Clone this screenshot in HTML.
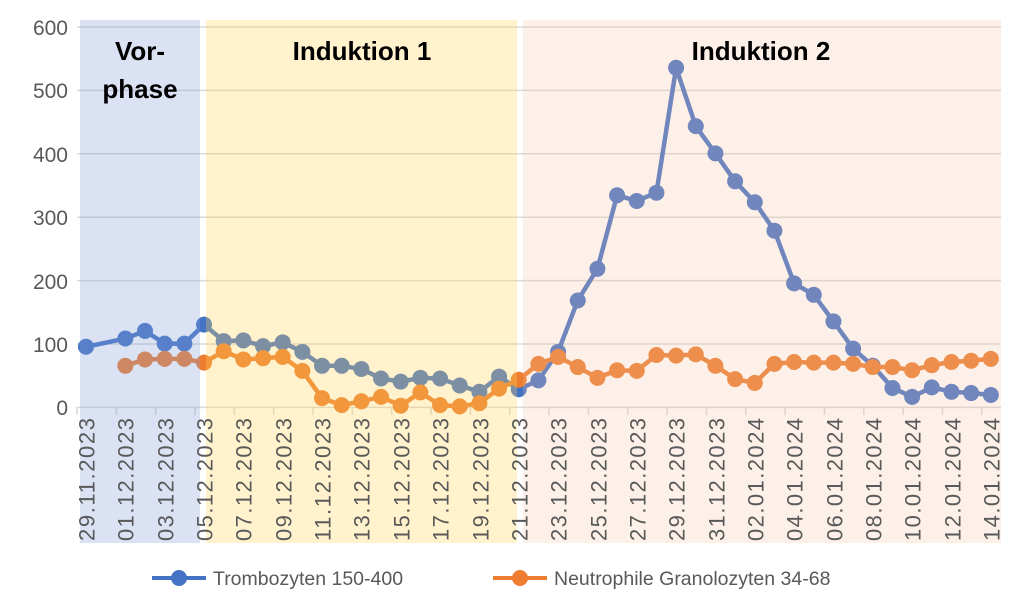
<!DOCTYPE html>
<html><head><meta charset="utf-8"><style>
body{margin:0;background:#fff;}
svg{display:block;font-family:"Liberation Sans",sans-serif;}
</style></head><body>
<svg id="s" width="1025" height="612" viewBox="0 0 1025 612">
<rect width="1025" height="612" fill="#fff"/>
<g stroke="#d9d9d9" stroke-width="1.5">
<line x1="77" x2="1001" y1="27" y2="27"/><line x1="77" x2="1001" y1="90.4" y2="90.4"/>
<line x1="77" x2="1001" y1="153.8" y2="153.8"/><line x1="77" x2="1001" y1="217.2" y2="217.2"/>
<line x1="77" x2="1001" y1="280.6" y2="280.6"/><line x1="77" x2="1001" y1="344" y2="344"/>
<line x1="77" x2="1001" y1="407.4" y2="407.4"/>
</g>
<g id="ticks" stroke="#d9d9d9" stroke-width="1.5"></g>
<g id="series"></g>
<rect x="80" y="20" width="120" height="523" fill="rgb(131,160,215)" fill-opacity="0.3"/>
<rect x="206" y="20" width="311" height="523" fill="rgb(255,212,85)" fill-opacity="0.3"/>
<rect x="523" y="20" width="478" height="523" fill="rgb(245,197,162)" fill-opacity="0.25"/>
<g font-size="21" fill="#595959" text-anchor="end">
<text x="68" y="35">600</text><text x="68" y="98">500</text><text x="68" y="162">400</text>
<text x="68" y="225">300</text><text x="68" y="289">200</text><text x="68" y="352">100</text><text x="68" y="415">0</text>
</g>
<g font-size="26" font-weight="bold" fill="#000" text-anchor="middle">
<text x="140" y="60">Vor-</text><text x="140" y="98">phase</text>
<text x="362" y="60">Induktion 1</text><text x="761" y="60">Induktion 2</text>
</g>
<g font-size="22" fill="#595959" text-anchor="end" dominant-baseline="central" lengthAdjust="spacingAndGlyphs">
<text textLength="123" transform="translate(87,418) rotate(-90)">29.11.2023</text>
<text textLength="123" transform="translate(126,418) rotate(-90)">01.12.2023</text>
<text textLength="123" transform="translate(166,418) rotate(-90)">03.12.2023</text>
<text textLength="123" transform="translate(205,418) rotate(-90)">05.12.2023</text>
<text textLength="123" transform="translate(244,418) rotate(-90)">07.12.2023</text>
<text textLength="123" transform="translate(284,418) rotate(-90)">09.12.2023</text>
<text textLength="123" transform="translate(323,418) rotate(-90)">11.12.2023</text>
<text textLength="123" transform="translate(362,418) rotate(-90)">13.12.2023</text>
<text textLength="123" transform="translate(402,418) rotate(-90)">15.12.2023</text>
<text textLength="123" transform="translate(441,418) rotate(-90)">17.12.2023</text>
<text textLength="123" transform="translate(481,418) rotate(-90)">19.12.2023</text>
<text textLength="123" transform="translate(520,418) rotate(-90)">21.12.2023</text>
<text textLength="123" transform="translate(559,418) rotate(-90)">23.12.2023</text>
<text textLength="123" transform="translate(599,418) rotate(-90)">25.12.2023</text>
<text textLength="123" transform="translate(638,418) rotate(-90)">27.12.2023</text>
<text textLength="123" transform="translate(677,418) rotate(-90)">29.12.2023</text>
<text textLength="123" transform="translate(717,418) rotate(-90)">31.12.2023</text>
<text textLength="123" transform="translate(756,418) rotate(-90)">02.01.2024</text>
<text textLength="123" transform="translate(795,418) rotate(-90)">04.01.2024</text>
<text textLength="123" transform="translate(835,418) rotate(-90)">06.01.2024</text>
<text textLength="123" transform="translate(874,418) rotate(-90)">08.01.2024</text>
<text textLength="123" transform="translate(913,418) rotate(-90)">10.01.2024</text>
<text textLength="123" transform="translate(953,418) rotate(-90)">12.01.2024</text>
<text textLength="123" transform="translate(992,418) rotate(-90)">14.01.2024</text>
</g>
<g>
<line x1="152" x2="206" y1="578" y2="578" stroke="#4472c4" stroke-width="4"/>
<circle cx="179" cy="578" r="8" fill="#4472c4"/>
<text x="213" y="585" font-size="19.5" fill="#595959">Trombozyten 150-400</text>
<line x1="493" x2="547" y1="578" y2="578" stroke="#ed7d31" stroke-width="4"/>
<circle cx="520" cy="578" r="8" fill="#ed7d31"/>
<text x="554" y="585" font-size="19.5" fill="#595959">Neutrophile Granolozyten 34-68</text>
</g>
</svg>
<script>
var NS="http://www.w3.org/2000/svg";
var t=document.getElementById("ticks");
for(var k=0;k<=23;k++){var l=document.createElementNS(NS,"line");var x=77+39.34*k;
l.setAttribute("x1",x);l.setAttribute("x2",x);l.setAttribute("y1",407);l.setAttribute("y2",415);t.appendChild(l);}
var blue=[95,null,108,120,100,100,130,104,105,96,102,87,65,65,60,45,40,46,45,34,24,48,28,42,87,168,218,334,325,338,535,443,400,356,323,278,195,177,135,92,65,30,16,31,24,22,19];
var orng=[null,null,65,75,76,76,70,88,75,77,79,57,14,3,9,16,2,23,3,1,6,29,43,68,79,63,46,58,57,82,81,83,65,44,38,68,71,70,70,68,63,63,58,66,71,73,76];
var g=document.getElementById("series");
function draw(d,c){var pts=[];for(var i=0;i<d.length;i++){if(d[i]==null)continue;pts.push([86+19.67*i,407-0.634*d[i]]);}
var p=document.createElementNS(NS,"polyline");p.setAttribute("points",pts.map(function(a){return a.join(",")}).join(" "));
p.setAttribute("fill","none");p.setAttribute("stroke",c);p.setAttribute("stroke-width","4.5");p.setAttribute("stroke-linejoin","round");g.appendChild(p);
pts.forEach(function(a){var ci=document.createElementNS(NS,"circle");ci.setAttribute("cx",a[0]);ci.setAttribute("cy",a[1]);ci.setAttribute("r","8");ci.setAttribute("fill",c);g.appendChild(ci);});}
draw(blue,"#4472c4");draw(orng,"#ed7d31");
</script>
</body></html>
